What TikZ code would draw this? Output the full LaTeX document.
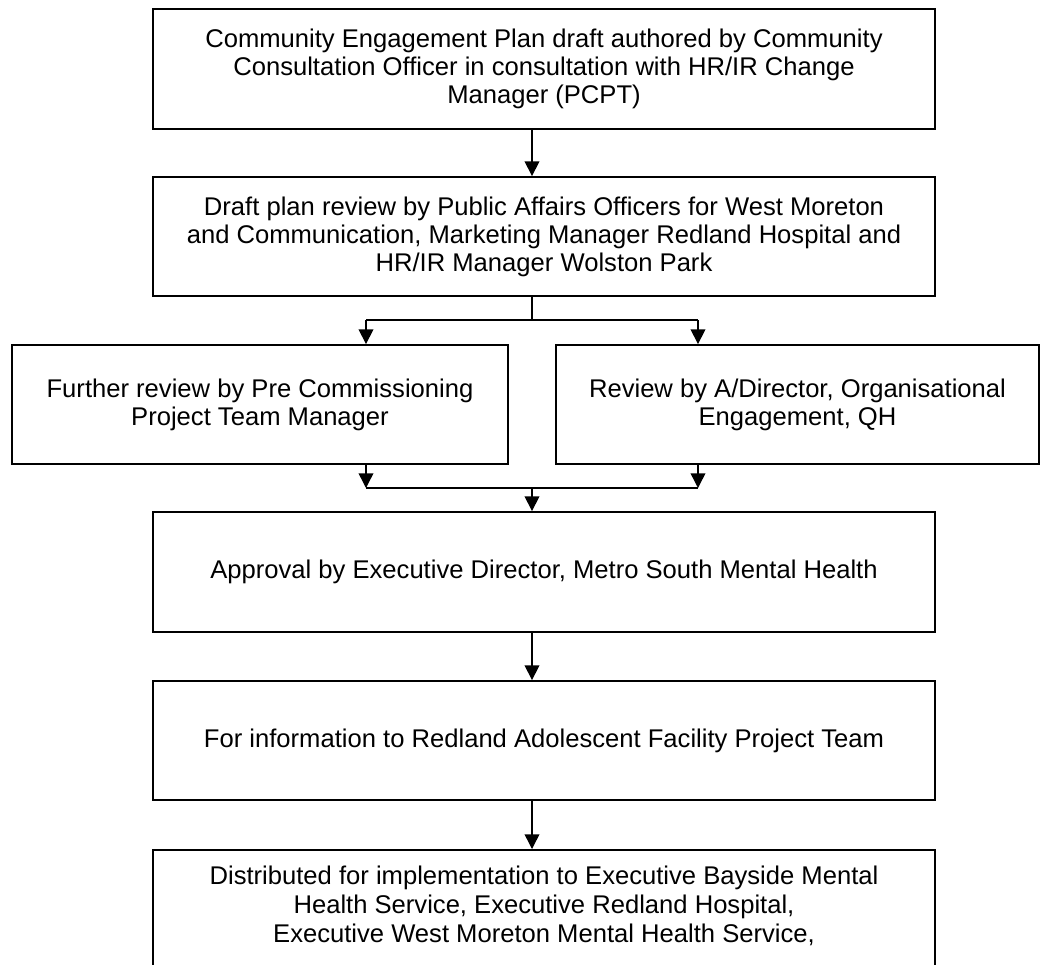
\documentclass[tikz,border=0pt]{standalone}
\usepackage{fontspec}
\setmainfont{Liberation Sans}
\usetikzlibrary{arrows.meta,calc}
\begin{document}
\begin{tikzpicture}[x=0.75pt,y=-0.75pt,
  box/.style={draw, line width=1.4pt, align=center, inner sep=0pt,
    font=\fontsize{19.2pt}{21pt}\selectfont},
  wide/.style={box, minimum width=586.5pt},
  conn/.style={line width=1.1pt},
  arr/.style={conn, -{Triangle[length=11pt,width=11pt]}},
  txt/.style={align=center, inner sep=0pt, font=\fontsize{19.2pt}{21.5pt}\selectfont}]
\useasboundingbox (0,0) rectangle (1042,964);
\clip (0,0) rectangle (1042,964);
\fill[white] (0,0) rectangle (1042,964);
\coordinate (ax) at (532,0);
\coordinate (lx) at (366,0);
\coordinate (rx) at (698,0);
\node[wide, minimum height=90pt] (b1) at (544,69) {Community Engagement Plan draft authored by Community\\Consultation Officer in consultation with HR/IR Change\\Manager (PCPT)};
\node[wide, minimum height=89.25pt] (b2) at (544,236.5) {Draft plan review by Public Affairs Officers for West Moreton\\and Communication, Marketing Manager Redland Hospital and\\HR/IR Manager Wolston Park};
\node[box, minimum width=372pt, minimum height=89.25pt] (b3) at (260,404.5) {Further review by Pre Commissioning\\Project Team Manager};
\node[box, minimum width=362.25pt, minimum height=89.25pt] (b4) at (797.5,404.5) {Review by A/Director, Organisational\\Engagement, QH};
\node[wide, minimum height=90pt] (b5) at (544,572) {Approval by Executive Director, Metro South Mental Health};
\node[wide, minimum height=89.25pt] (b6) at (544,740.5) {For information to Redland Adolescent Facility Project Team};
\node[wide, minimum height=150pt, anchor=north] (b7) at (544,849) {};
\node[txt, anchor=north] (t7) at (544,866) {Distributed for implementation to Executive Bayside Mental\\Health Service, Executive Redland Hospital,\\Executive West Moreton Mental Health Service,};
\coordinate (j1) at (532,320);
\coordinate (j2) at (532,488);
\draw[arr] (b1.south -| ax) -- (b2.north -| ax);
\draw[conn] (b2.south -| ax) -- (j1);
\draw[conn] (j1 -| lx) -- (j1 -| rx);
\draw[arr] (j1 -| lx) -- (b3.north -| lx);
\draw[arr] (j1 -| rx) -- (b4.north -| rx);
\draw[arr] (b3.south -| lx) -- (j2 -| lx);
\draw[arr] (b4.south -| rx) -- (j2 -| rx);
\draw[conn] (j2 -| lx) -- (j2 -| rx);
\draw[arr] (j2) -- (b5.north -| ax);
\draw[arr] (b5.south -| ax) -- (b6.north -| ax);
\draw[arr] (b6.south -| ax) -- (b7.north -| ax);
\end{tikzpicture}
\end{document}
